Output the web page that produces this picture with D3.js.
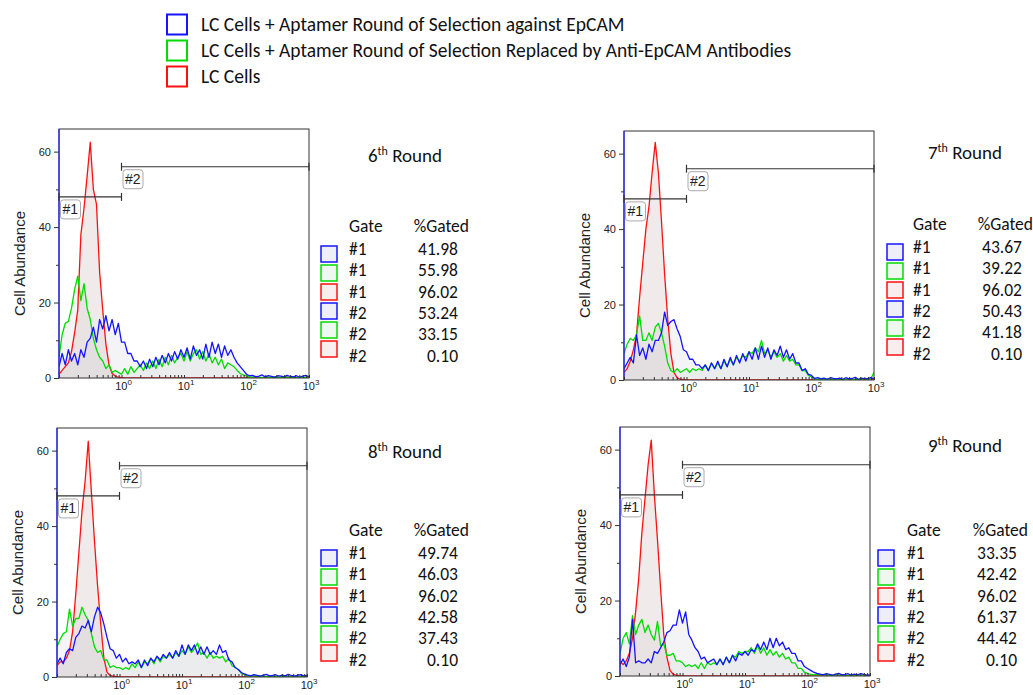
<!DOCTYPE html>
<html>
<head>
<meta charset="utf-8">
<script src="https://cdn.jsdelivr.net/npm/d3@7/dist/d3.min.js"></script>
<style>
  body { margin: 0; background: #fff; }
  svg { display: block; }
</style>
</head>
<body>
<svg id="chart" width="1033" height="695"></svg>
<script>
// histogram heights per bin (bins are 0.05 decades wide, from 10^-1 to 10^3)
const red6 = [1, 2, 3, 4, 7, 12, 18, 38, 45, 53.5, 62.5, 50, 46, 28, 18, 9, 3.5, 1.2, 0.5, 0.2,
  0.1, 0, 0, 0, 0, 0, 0, 0, 0, 0, 0, 0, 0, 0, 0, 0, 0, 0, 0, 0,
  0, 0, 0, 0, 0, 0, 0, 0, 0, 0, 0, 0, 0, 0, 0, 0, 0, 0, 0, 0,
  0, 0, 0, 0, 0, 0, 0, 0, 0, 0, 0, 0, 0, 0, 0, 0, 0, 0, 0, 0, 0];
const blue6 = [3, 6.5, 3.5, 7.5, 4.5, 6.5, 3.5, 7.5, 5.5, 9.5, 10.5, 13.5, 9.5, 15.5, 13, 16.5, 12.5, 15.5, 11.5, 14.5,
  9.5, 9.5, 6.5, 6.5, 4.5, 4.5, 3, 4.5, 2.5, 5, 3, 5.5, 3.5, 6, 4, 6.5, 4.5, 7, 5, 7.5,
  5.5, 8, 5, 8.5, 6, 7.5, 5, 9, 5.5, 9.5, 6.5, 9, 5.5, 8.5, 6, 7.5, 5.5, 4, 3, 2,
  1, 0.6, 0.7, 0.3, 0.5, 0.8, 0.3, 0.6, 0.4, 0.2, 0.6, 0.5, 0.3, 0.7, 0.4, 0.3, 0.6, 0.2, 0.5, 0.7, 0.3];
const green6 = [5.5, 11.5, 14.5, 15, 18.5, 23.5, 27, 20.5, 25, 18.5, 15.5, 10.5, 7.5, 5.5, 4.5, 2.5, 3.5, 1.5, 2, 1.5,
  1, 2.5, 1, 3, 1.5, 2.5, 3.5, 2, 4, 2.5, 4.5, 2.5, 5, 3, 5.5, 3.5, 6, 4, 5.5, 6.5,
  4.5, 7, 4.5, 6.5, 7.5, 5, 7, 4.5, 6.5, 4, 5.5, 3.5, 5, 2.5, 4, 3.5, 3, 2, 1.2, 0.8,
  0.5, 0.3, 0.2, 0.4, 0.2, 0.1, 0.3, 0.2, 0.1, 0.3, 0.2, 0.1, 0.2, 0.3, 0.1, 0.2, 0.1, 0.2, 0.1, 0.2, 0.1];

const red7 = [2, 3, 5, 8, 12, 22, 31, 40, 46, 55, 63, 55, 42, 28, 16, 7, 2, 0.6, 0.2, 0.1,
  0, 0, 0, 0, 0, 0, 0, 0, 0, 0, 0, 0, 0, 0, 0, 0, 0, 0, 0, 0,
  0, 0, 0, 0, 0, 0, 0, 0, 0, 0, 0, 0, 0, 0, 0, 0, 0, 0, 0, 0,
  0, 0, 0, 0, 0, 0, 0, 0, 0, 0, 0, 0, 0, 0, 0, 0, 0, 0, 0, 0, 0];
const blue7 = [3, 4.5, 6, 4.5, 12, 6.5, 8.5, 5.5, 9.5, 7.5, 10.5, 10.5, 12.5, 18, 14.5, 15.5, 16, 13.5, 11.5, 8,
  7.5, 5.5, 5.5, 4, 4, 3, 4, 2.5, 4.5, 3, 5, 3, 5.5, 3.5, 6, 4, 6.5, 4.5, 7, 5,
  7.5, 5.5, 8.5, 5.5, 9, 6, 8.5, 5.5, 8, 6.5, 9, 6, 8, 5.5, 7, 4.5, 4.5, 2.5, 3, 1.5,
  1.2, 0.4, 0.6, 0.3, 0.5, 0.2, 0.6, 0.4, 0.3, 0.5, 0.2, 0.6, 0.3, 0.4, 0.7, 0.2, 0.5, 0.3, 0.4, 0.6, 0.3];
const green7 = [7, 9.5, 11, 10.5, 12, 17, 10.5, 10.5, 12.5, 10.5, 14, 15, 12.5, 9, 4.5, 2.5, 2, 3, 2, 2.5,
  3, 2, 3, 2.5, 3, 2.5, 4, 2.5, 4.5, 3, 4.5, 3, 5, 3.5, 5.5, 4, 6, 5, 6.5, 6,
  7.5, 7, 8.5, 7.5, 10.5, 7, 8, 6, 7.5, 6, 7, 5, 6.5, 5, 5.5, 4, 4, 2.5, 2.5, 1.2,
  0.8, 0.3, 0.2, 0.4, 0.1, 0.3, 0.2, 0.1, 0.3, 0.2, 0.1, 0.2, 0.3, 0.1, 0.2, 0.1, 0.3, 0.2, 0.1, 0.4, 2];

const red8 = [3, 4, 4, 5, 7, 12, 22, 33, 44, 52, 62.5, 49, 36, 24, 14, 5, 1.3, 0.4, 0.2, 0.1,
  0, 0, 0, 0, 0, 0, 0, 0, 0, 0, 0, 0, 0, 0, 0, 0, 0, 0, 0, 0,
  0, 0, 0, 0, 0, 0, 0, 0, 0, 0, 0, 0, 0, 0, 0, 0, 0, 0, 0, 0,
  0, 0, 0, 0, 0, 0, 0, 0, 0, 0, 0, 0, 0, 0, 0, 0, 0, 0, 0, 0, 0];
const blue8 = [3.5, 5, 3.5, 6.5, 7.5, 7, 10.5, 11.5, 13.5, 13, 15, 12, 16, 18.5, 17, 14, 10.5, 7.5, 7, 5,
  6, 4, 5, 3.5, 4, 3.5, 4.5, 2.5, 4.5, 3, 5, 4, 5.5, 4.5, 6, 5, 6.5, 5, 7, 5.5,
  8.5, 6, 8.5, 7, 8.5, 6, 8, 6, 8, 6, 7, 6, 8.5, 6.5, 7, 4.5, 4, 2.5, 2, 1.2,
  0.8, 0.5, 0.3, 0.6, 0.4, 0.2, 0.5, 0.7, 0.3, 0.4, 0.6, 0.2, 0.5, 0.3, 0.7, 0.4, 0.2, 0.5, 0.6, 0.3, 0.4];
const green8 = [8, 10, 11.5, 12, 18, 13.5, 15.5, 15.5, 18.5, 16.5, 15, 11.5, 8, 6.5, 7, 4.5, 4.5, 2.5, 3, 2.5,
  2.5, 2, 2.5, 2, 3.5, 2.5, 4, 2.5, 4, 3.5, 5, 3.5, 5.5, 4, 5.5, 5, 6, 5, 6.5, 5.5,
  7, 6, 8, 6.5, 7.5, 9, 6, 6.5, 5, 6.5, 5, 5.5, 5, 5.5, 4, 5, 3, 2.5, 2, 1,
  0.6, 0.3, 0.2, 0.4, 0.1, 0.3, 0.2, 0.1, 0.2, 0.3, 0.1, 0.2, 0.1, 0.3, 0.2, 0.1, 0.2, 0.3, 0.1, 0.2, 0.1];

const red9 = [4, 3, 4, 6, 10, 17, 26, 38, 47, 56, 62.5, 48, 36, 23, 11, 5, 1.5, 0.5, 0.2, 0.1,
  0, 0, 0, 0, 0, 0, 0, 0, 0, 0, 0, 0, 0, 0, 0, 0, 0, 0, 0, 0,
  0, 0, 0, 0, 0, 0, 0, 0, 0, 0, 0, 0, 0, 0, 0, 0, 0, 0, 0, 0,
  0, 0, 0, 0, 0, 0, 0, 0, 0, 0, 0, 0, 0, 0, 0, 0, 0, 0, 0, 0, 0];
const blue9 = [3, 4.5, 2.5, 5, 15, 3.5, 4, 3.5, 3.5, 4.5, 3.5, 6.5, 6, 7.5, 9, 11.5, 12, 13.5, 13.5, 17.5,
  14, 17, 11, 9.5, 7.5, 6.5, 4.5, 5, 3.5, 4, 4.5, 3, 4.5, 3, 5, 3.5, 5.5, 4, 6, 5.5,
  6.5, 5.5, 7, 6.5, 8.5, 7, 9, 7, 10, 7.5, 10, 8, 9, 7, 7.5, 6, 6, 4, 4, 2.5,
  2, 1.5, 1, 0.7, 0.5, 0.3, 0.6, 0.4, 0.2, 0.5, 0.7, 0.3, 0.4, 0.6, 0.2, 0.5, 0.3, 0.6, 0.4, 0.2, 0.3];
const green9 = [6, 10, 11.5, 8.5, 16, 11, 13.5, 15, 11.5, 13.5, 11, 9.5, 14.5, 8, 8.5, 5.5, 5.5, 6, 4, 4,
  3.5, 2.5, 3, 2.5, 3, 2, 3.5, 2, 3.5, 3, 3.5, 3, 4.5, 3, 5, 3.5, 5.5, 5, 6.5, 6,
  6.5, 6.5, 7.5, 6, 8, 6, 7.5, 5.5, 7, 5.5, 6.5, 5, 6, 4.5, 5, 3.5, 3.5, 2, 2, 1,
  0.7, 0.4, 0.3, 0.5, 0.2, 0.4, 0.3, 0.1, 0.2, 0.4, 0.2, 0.3, 0.1, 0.2, 0.4, 0.1, 0.3, 0.2, 0.1, 0.2, 0.1];

const rounds = ["6", "7", "8", "9"];
const gateNames = ["#1", "#1", "#1", "#2", "#2", "#2"];
const gated6 = ["41.98", "55.98", "96.02", "53.24", "33.15", "0.10"];
const gated7 = ["43.67", "39.22", "96.02", "50.43", "41.18", "0.10"];
const gated8 = ["49.74", "46.03", "96.02", "42.58", "37.43", "0.10"];
const gated9 = ["33.35", "42.42", "96.02", "61.37", "44.42", "0.10"];
const legendLabels = [
  "LC Cells + Aptamer Round of Selection against EpCAM",
  "LC Cells + Aptamer Round of Selection Replaced by Anti-EpCAM Antibodies",
  "LC Cells"
];
const gate1 = [0.1, 1, 48];   // from, to, marker height
const gate2 = [1, 1000, 56];
const yTicks = [0, 20, 40, 60];
const yMinor = [10, 30, 50];
const xDecades = [1, 10, 100, 1000];

const blue = "#1414ff", green = "#00dc00", red = "#ff1010";
const tint = { blue: "#eeeef9", green: "#eef8ee", red: "#f9eeee" };
const txtFont = "Carlito, 'Open Sans', sans-serif";
const axFont = "'Liberation Sans', Arial, sans-serif";

const svg = d3.select("#chart");
const W = 250, H = 249;

const x = d3.scaleLog().domain([0.1, 1000]).range([0, W]);
const y = d3.scaleLinear().domain([0, 66]).range([H, 0]);
const bins = d3.range(81).map(i => Math.pow(10, -1 + i * 0.05));

const panels = [
  { left: 59, top: 129, titleDx: 346, titleDy: 33, tableDy: 103, sqDx: 262, gateDx: 290, valDx: 399,
    red: red6, blue: blue6, green: green6, gated: gated6 },
  { left: 624, top: 131, titleDx: 341, titleDy: 28, tableDy: 99, sqDx: 263, gateDx: 289, valDx: 398,
    red: red7, blue: blue7, green: green7, gated: gated7 },
  { left: 57, top: 428, titleDx: 348, titleDy: 30, tableDy: 108, sqDx: 264, gateDx: 292, valDx: 401,
    red: red8, blue: blue8, green: green8, gated: gated8 },
  { left: 620, top: 427, titleDx: 345, titleDy: 25, tableDy: 109, sqDx: 258, gateDx: 287, valDx: 397,
    red: red9, blue: blue9, green: green9, gated: gated9 }
];

// legend
const leg = svg.append("g").attr("transform", "translate(167,14.5)");
[blue, green, red].forEach((c, i) => {
  leg.append("rect").attr("x", 0).attr("y", i * 26).attr("width", 20).attr("height", 20)
    .attr("fill", "#fff").attr("stroke", c).attr("stroke-width", 2);
  leg.append("text").attr("x", 34).attr("y", i * 26 + 16.5)
    .attr("font-family", txtFont).attr("font-size", 19.5).attr("fill", "#111")
    .text(legendLabels[i]);
});

const line = d3.line().x((d, i) => x(bins[i])).y(d => y(d));
const area = d3.area().x((d, i) => x(bins[i])).y0(H).y1(d => y(d));

panels.forEach((p, k) => {
  const g = svg.append("g").attr("transform", `translate(${p.left},${p.top})`);

  g.append("clipPath").attr("id", "clip" + k)
    .append("rect").attr("width", W).attr("height", H);
  const plot = g.append("g").attr("clip-path", `url(#clip${k})`);

  const series = [
    { vals: p.red, c: red, f: "rgba(215,195,195,0.35)" },
    { vals: p.green, c: green, f: "rgba(205,210,205,0.22)" },
    { vals: p.blue, c: blue, f: "rgba(205,205,215,0.22)" }
  ];
  series.forEach(s => {
    plot.append("path").attr("d", area(s.vals)).attr("fill", s.f);
  });
  series.forEach(s => {
    plot.append("path").attr("d", line(s.vals)).attr("fill", "none")
      .attr("stroke", s.c).attr("stroke-width", 1.3).attr("stroke-linejoin", "round");
  });

  // frame
  g.append("rect").attr("width", W).attr("height", H)
    .attr("fill", "none").attr("stroke", "#333").attr("stroke-width", 1);
  g.append("line").attr("x1", 0).attr("x2", 0).attr("y1", 0).attr("y2", H)
    .attr("stroke", "#2020ff").attr("stroke-width", 1.2);

  // y axis
  const ya = g.append("g").call(d3.axisLeft(y).tickValues(yTicks).tickSize(5).tickPadding(3));
  ya.select(".domain").remove();
  ya.selectAll("text").attr("font-family", axFont).attr("font-size", 11).attr("fill", "#222");
  ya.selectAll("line").attr("stroke", "#333");
  const ym = g.append("g").call(d3.axisLeft(y).tickValues(yMinor).tickSize(3).tickFormat(""));
  ym.select(".domain").remove();
  ym.selectAll("line").attr("stroke", "#333");

  // x axis (log minor ticks inside)
  const xa = g.append("g").attr("transform", `translate(0,${H})`)
    .call(d3.axisBottom(x).tickValues(x.ticks()).tickSize(-3).tickFormat(""));
  xa.select(".domain").remove();
  xa.selectAll("line").attr("stroke", "#333");
  xDecades.forEach(v => {
    const t = g.append("text").attr("x", x(v) + 2).attr("y", H + 12)
      .attr("text-anchor", "middle").attr("font-family", axFont)
      .attr("font-size", 11).attr("fill", "#222");
    t.append("tspan").text("10");
    t.append("tspan").attr("dy", -5).attr("font-size", 8).text(Math.round(Math.log10(v)));
  });

  g.append("text")
    .attr("transform", `translate(-34,${H / 2 + 10}) rotate(-90)`)
    .attr("text-anchor", "middle")
    .attr("font-family", axFont)
    .attr("font-size", 15).attr("fill", "#222")
    .text("Cell Abundance");

  // gate markers
  [gate1, gate2].forEach((gt, j) => {
    const gy = y(gt[2]);
    const x0 = x(gt[0]), x1 = x(gt[1]);
    g.append("line").attr("x1", x0).attr("x2", x1).attr("y1", gy).attr("y2", gy)
      .attr("stroke", "#333").attr("stroke-width", 1.2);
    [x0, x1].forEach(xx => {
      g.append("line").attr("x1", xx).attr("x2", xx).attr("y1", gy - 4).attr("y2", gy + 4)
        .attr("stroke", "#333").attr("stroke-width", 1.2);
    });
    g.append("rect").attr("x", x0 + 1.5).attr("y", gy + 3).attr("width", 20).attr("height", 19)
      .attr("rx", 3).attr("fill", "#fff").attr("stroke", "#aaa").attr("stroke-width", 1);
    g.append("text").attr("x", x0 + 3.5).attr("y", gy + 17.5)
      .attr("font-family", axFont).attr("font-size", 14)
      .attr("fill", "#222").text("#" + (j + 1));
  });

  // title
  const tt = g.append("text").attr("x", p.titleDx).attr("y", p.titleDy)
    .attr("text-anchor", "middle").attr("font-family", txtFont)
    .attr("font-size", 19).attr("fill", "#111");
  tt.append("tspan").text(rounds[k]);
  tt.append("tspan").attr("dy", -7).attr("font-size", 12).text("th");
  tt.append("tspan").attr("dy", 7).text(" Round");

  // gated table
  const tb = g.append("g").attr("transform", `translate(0,${p.tableDy})`)
    .attr("font-family", txtFont).attr("font-size", 17.5).attr("fill", "#111");
  tb.append("text").attr("x", p.gateDx).attr("y", 0).text("Gate");
  tb.append("text").attr("x", p.valDx + 11).attr("y", 0).attr("text-anchor", "end").text("%Gated");
  const rowCols = [[blue, tint.blue], [green, tint.green], [red, tint.red]];
  gateNames.forEach((gn, i) => {
    const rc = rowCols[i % 3];
    tb.append("rect").attr("x", p.sqDx).attr("y", 14 + i * 19).attr("width", 16).attr("height", 16)
      .attr("fill", rc[1]).attr("stroke", rc[0]).attr("stroke-width", 1.5);
    tb.append("text").attr("x", p.gateDx).attr("y", 23 + i * 21.3).text(gn);
    tb.append("text").attr("x", p.valDx).attr("y", 23 + i * 21.3)
      .attr("text-anchor", "end").text(p.gated[i]);
  });
});
</script>
</body>
</html>
